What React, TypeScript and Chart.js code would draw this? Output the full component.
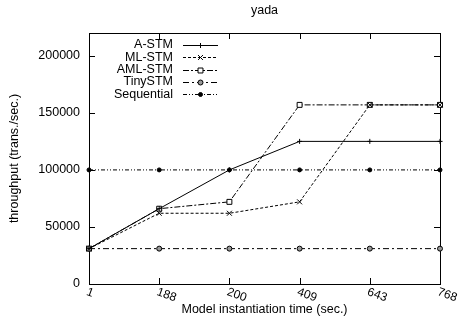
import React, { useEffect, useRef } from "react";
import { Chart, registerables } from "chart.js";

Chart.register(...registerables);

const FONT = "'Liberation Sans', Arial, Helvetica, sans-serif";

const chartTitle = "yada";
const xTitle = "Model instantiation time (sec.)";
const yTitle = "throughput (trans./sec.)";

const categories = ["1", "188", "200", "409", "643", "768"];
const aStm = [31000, 66000, 100000, 125000, 125000, 125000];
const mlStm = [31000, 62000, 62000, 72000, 157000, 157000];
const amlStm = [31000, 66000, 72000, 157000, 157000, 157000];
const tinyStm = [31000, 31000, 31000, 31000, 31000, 31000];
const sequential = [100000, 100000, 100000, 100000, 100000, 100000];
const yTicks = [0, 50000, 100000, 150000, 200000];

type Style = { name: string; data: number[]; dash: number[]; point: string; radius: number; fill: string };

const series: Style[] = [
  { name: "A-STM", data: aStm, dash: [], point: "cross", radius: 2.5, fill: "#000" },
  { name: "ML-STM", data: mlStm, dash: [3, 2], point: "crossRot", radius: 3.5, fill: "#000" },
  { name: "AML-STM", data: amlStm, dash: [6, 2, 2, 2], point: "rect", radius: 3.5, fill: "#fff" },
  { name: "TinySTM", data: tinyStm, dash: [6, 3, 2, 3], point: "circle", radius: 2.5, fill: "#999" },
  { name: "Sequential", data: sequential, dash: [4, 2, 1, 2, 1, 2], point: "circle", radius: 2, fill: "#000" },
];

function drawMarker(ctx: CanvasRenderingContext2D, s: Style, x: number, y: number) {
  const r = s.radius;
  ctx.save();
  ctx.setLineDash([]);
  ctx.lineWidth = 1;
  ctx.strokeStyle = "#000";
  ctx.fillStyle = s.fill;
  ctx.beginPath();
  if (s.point === "cross") {
    ctx.moveTo(x - r, y); ctx.lineTo(x + r, y);
    ctx.moveTo(x, y - r); ctx.lineTo(x, y + r);
    ctx.stroke();
  } else if (s.point === "crossRot") {
    const d = r * Math.SQRT1_2;
    ctx.moveTo(x - d, y - d); ctx.lineTo(x + d, y + d);
    ctx.moveTo(x - d, y + d); ctx.lineTo(x + d, y - d);
    ctx.stroke();
  } else if (s.point === "rect") {
    const d = r * Math.SQRT1_2;
    ctx.rect(x - d, y - d, 2 * d, 2 * d);
    ctx.fill(); ctx.stroke();
  } else {
    ctx.arc(x, y, r, 0, Math.PI * 2);
    ctx.fill(); ctx.stroke();
  }
  ctx.restore();
}

const decorPlugin = {
  id: "decor",
  beforeDatasetsDraw(chart: any) {
    const { ctx, chartArea } = chart;
    const { left, right, top, bottom } = chartArea;
    ctx.save();
    ctx.strokeStyle = "#000";
    ctx.lineWidth = 1;
    ctx.setLineDash([]);
    ctx.strokeRect(Math.round(left) + 0.5, Math.round(top) + 0.5, Math.round(right - left), Math.round(bottom - top));
    const ys = chart.scales.y;
    const xs = chart.scales.x;
    ctx.beginPath();
    yTicks.forEach((v) => {
      const y = Math.round(ys.getPixelForValue(v)) + 0.5;
      ctx.moveTo(left, y); ctx.lineTo(left + 6, y);
      ctx.moveTo(right, y); ctx.lineTo(right - 6, y);
    });
    categories.forEach((_, i) => {
      const x = Math.round(xs.getPixelForValue(i)) + 0.5;
      ctx.moveTo(x, bottom); ctx.lineTo(x, bottom - 6);
      ctx.moveTo(x, top); ctx.lineTo(x, top + 6);
    });
    ctx.stroke();
    ctx.restore();
  },
  afterDraw(chart: any) {
    const { ctx, chartArea } = chart;
    const xs = chart.scales.x;
    ctx.save();
    ctx.fillStyle = "#000";
    ctx.font = `12.5px ${FONT}`;
    // title
    ctx.textAlign = "center";
    ctx.textBaseline = "middle";
    ctx.fillText(chartTitle, (chartArea.left + chartArea.right) / 2, 11);
    // rotated x tick labels
    ctx.font = `12px ${FONT}`;
    categories.forEach((c, i) => {
      const x = xs.getPixelForValue(i);
      ctx.save();
      ctx.translate(x, chartArea.bottom + 2);
      ctx.rotate((20 * Math.PI) / 180);
      ctx.textAlign = "left";
      ctx.textBaseline = "top";
      ctx.fillText(c, 0, 0);
      ctx.restore();
    });
    // legend
    ctx.font = `12.5px ${FONT}`;
    series.forEach((s, i) => {
      const y = 45 + i * 12.3;
      ctx.textAlign = "right";
      ctx.textBaseline = "middle";
      ctx.fillStyle = "#000";
      ctx.fillText(s.name, 173, y);
      ctx.save();
      ctx.strokeStyle = "#000";
      ctx.lineWidth = 1;
      ctx.setLineDash(s.dash);
      ctx.beginPath();
      ctx.moveTo(183, Math.round(y) + 0.5);
      ctx.lineTo(218, Math.round(y) + 0.5);
      ctx.stroke();
      ctx.restore();
      drawMarker(ctx, s, 200.5, Math.round(y) + 0.5);
    });
    ctx.restore();
  },
};

export default function App() {
  const ref = useRef<HTMLCanvasElement>(null);
  useEffect(() => {
    if (!ref.current) return;
    const chart = new Chart(ref.current, {
      type: "line",
      data: {
        labels: categories,
        datasets: series.map((s) => ({
          label: s.name,
          data: s.data,
          borderColor: "#000",
          borderWidth: 1,
          borderDash: s.dash,
          pointStyle: s.point as any,
          pointRadius: s.radius,
          pointBorderWidth: 1,
          pointBorderColor: "#000",
          pointBackgroundColor: s.fill,
          tension: 0,
          fill: false,
          clip: 8,
        })),
      },
      options: {
        animation: false,
        responsive: false,
        maintainAspectRatio: false,
        layout: { padding: { top: 33, right: 20, bottom: 0, left: 0 } },
        plugins: {
          legend: { display: false },
          title: { display: false },
          tooltip: { enabled: false },
        },
        scales: {
          x: {
            type: "category",
            offset: false,
            grid: { display: false, drawTicks: false },
            border: { display: false },
            ticks: { display: false },
            title: {
              display: true,
              text: xTitle,
              color: "#000",
              font: { family: FONT, size: 12.5 },
              padding: { top: 0, bottom: 4.5 },
            },
            afterFit: (s: any) => { s.height = 38; },
          },
          y: {
            min: 0,
            max: 220000,
            grid: { display: false, drawTicks: false },
            border: { display: false },
            ticks: {
              stepSize: 50000,
              padding: 9,
              color: "#000",
              font: { family: FONT, size: 12.5 },
              callback: (v: any) => String(v),
            },
            afterBuildTicks: (s: any) => { s.ticks = yTicks.map((v) => ({ value: v })); },
            title: {
              display: true,
              text: yTitle,
              color: "#000",
              font: { family: FONT, size: 12.5 },
              padding: { top: 7.5, bottom: 0 },
            },
            afterFit: (s: any) => { s.width = 89; },
          },
        },
      },
      plugins: [decorPlugin],
    });
    return () => chart.destroy();
  }, []);
  return (
    <div style={{ position: "fixed", left: 0, top: 0, width: 460, height: 322, background: "#fff" }}>
      <canvas ref={ref} width={460} height={322} style={{ width: 460, height: 322, display: "block" }} />
    </div>
  );
}
